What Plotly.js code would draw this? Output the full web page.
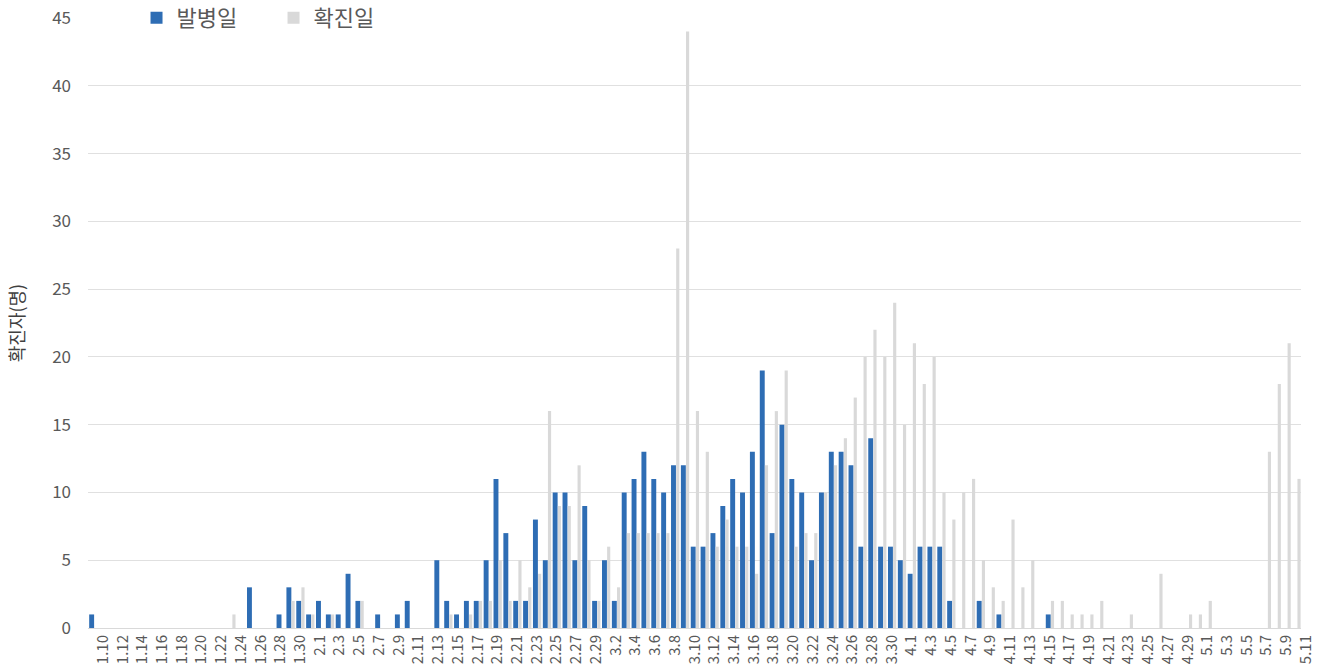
<!DOCTYPE html>
<html>
<head>
<meta charset="utf-8">
<script src="https://cdn.plot.ly/plotly-3.0.1.min.js"></script>
<style>
  html, body { margin: 0; padding: 0; background: #fff; }
  #chart { width: 1323px; height: 672px; }
</style>
</head>
<body>
<div id="chart"></div>
<script>
// Dates (month.day), Jan 10 – May 11
const dates = [
  "1.10","1.11","1.12","1.13","1.14","1.15","1.16","1.17","1.18","1.19","1.20","1.21","1.22","1.23","1.24","1.25","1.26","1.27","1.28","1.29","1.30","1.31",
  "2.1","2.2","2.3","2.4","2.5","2.6","2.7","2.8","2.9","2.10","2.11","2.12","2.13","2.14","2.15","2.16","2.17","2.18","2.19","2.20","2.21","2.22","2.23","2.24","2.25","2.26","2.27","2.28","2.29",
  "3.1","3.2","3.3","3.4","3.5","3.6","3.7","3.8","3.9","3.10","3.11","3.12","3.13","3.14","3.15","3.16","3.17","3.18","3.19","3.20","3.21","3.22","3.23","3.24","3.25","3.26","3.27","3.28","3.29","3.30","3.31",
  "4.1","4.2","4.3","4.4","4.5","4.6","4.7","4.8","4.9","4.10","4.11","4.12","4.13","4.14","4.15","4.16","4.17","4.18","4.19","4.20","4.21","4.22","4.23","4.24","4.25","4.26","4.27","4.28","4.29","4.30",
  "5.1","5.2","5.3","5.4","5.5","5.6","5.7","5.8","5.9","5.10","5.11"
];

// 발병일 (onset date) counts
const onset = [
  1,0,0,0,0,0,0,0,0,0,0,0,0,0,0,0,3,0,0,1,3,2,
  1,2,1,1,4,2,0,1,0,1,2,0,0,5,2,1,2,2,5,11,7,2,2,8,5,10,10,5,9,
  2,5,2,10,11,13,11,10,12,12,6,6,7,9,11,10,13,19,7,15,11,10,5,10,13,13,12,6,14,6,6,
  5,4,6,6,6,2,0,0,2,0,1,0,0,0,0,1,0,0,0,0,0,0,0,0,0,0,0,0,0,0,
  0,0,0,0,0,0,0,0,0,0,0
];

// 확진일 (confirmation date) counts
const confirmed = [
  0,0,0,0,0,0,0,0,0,0,0,0,0,0,1,0,0,0,0,0,2,3,
  1,0,1,0,0,2,0,0,0,0,0,0,0,0,1,0,1,2,2,5,2,5,3,4,16,9,9,12,5,
  2,6,3,7,7,7,7,7,28,44,16,13,6,8,6,6,4,12,16,19,6,7,7,10,12,14,17,20,22,20,24,
  15,21,18,20,10,8,10,11,5,3,2,8,3,5,0,2,2,1,1,1,2,0,0,1,0,0,4,0,0,1,
  1,2,0,0,0,0,0,13,18,21,11
];

// Axis tick labels: every second date
const xTickLabels = dates.filter((d, i) => i % 2 === 0);
const yTicks = [0, 5, 10, 15, 20, 25, 30, 35, 40, 45];

const FONT = '"Noto Sans CJK KR", "Noto Sans", sans-serif';
const TXT = '#595959';

const traces = [
  { type: 'bar', name: '발병일', x: dates, y: onset,
    width: 0.5, offset: -0.38,
    marker: { color: '#2E6DB4', line: { width: 0 } } },
  { type: 'bar', name: '확진일', x: dates, y: confirmed,
    width: 0.32, offset: 0.14,
    marker: { color: '#D9D9D9', line: { width: 0 } } }
];

const layout = {
  width: 1323, height: 672,
  margin: { l: 88, r: 22, t: 18, b: 44, autoexpand: false },
  paper_bgcolor: '#ffffff', plot_bgcolor: '#ffffff',
  font: { family: FONT, color: TXT, size: 14 },
  barmode: 'overlay',
  showlegend: true,
  legend: {
    orientation: 'h', x: 0.04, xanchor: 'left', y: 1.0, yanchor: 'middle',
    font: { family: FONT, size: 22, color: TXT }, bgcolor: 'rgba(255,255,255,0)',
    itemwidth: 30, entrywidth: 92, entrywidthmode: 'pixels', tracegroupgap: 0
  },
  xaxis: {
    type: 'category', tickmode: 'array', tickvals: xTickLabels, ticktext: xTickLabels,
    tickangle: -90, tickfont: { family: FONT, size: 15, color: TXT },
    ticklabelshift: 10,
    showgrid: false, showline: true, linecolor: '#d9d9d9', linewidth: 1,
    ticks: '', automargin: false, fixedrange: true
  },
  yaxis: {
    range: [0, 45], tickmode: 'array', tickvals: yTicks,
    tickfont: { family: FONT, size: 17, color: TXT },
    showgrid: true, gridcolor: '#e0e0e0', gridwidth: 1, zeroline: false,
    showline: false, ticks: '', ticklabelstandoff: 16, automargin: false,
    title: { text: '확진자(명)', font: { family: FONT, size: 18, color: '#404040' }, standoff: 22 }
  }
};

Plotly.newPlot('chart', traces, layout, { displayModeBar: false, staticPlot: true });
</script>
</body>
</html>
